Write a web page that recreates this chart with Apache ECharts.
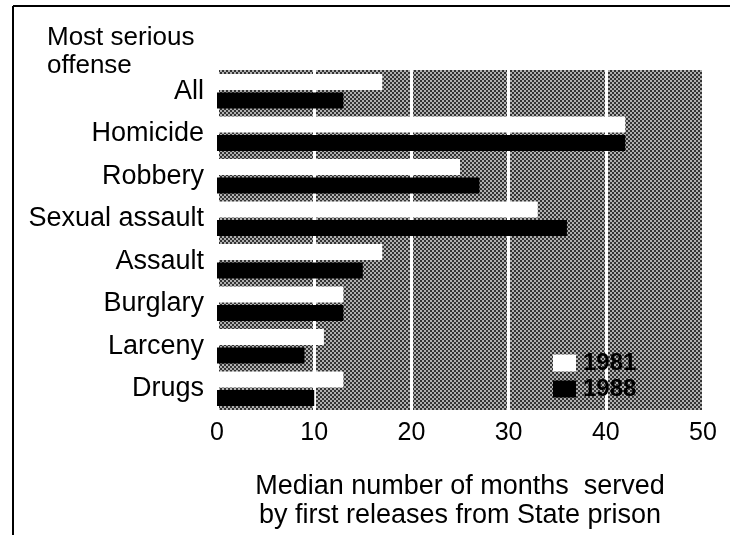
<!DOCTYPE html>
<html>
<head>
<meta charset="utf-8">
<script src="https://cdn.jsdelivr.net/npm/echarts@6/dist/echarts.min.js"></script>
<style>
  html, body { margin: 0; padding: 0; background: #fff; }
  #chart { width: 730px; height: 535px; }
</style>
</head>
<body>
<div id="chart"></div>
<script>
const offenses = ['All', 'Homicide', 'Robbery', 'Sexual assault', 'Assault', 'Burglary', 'Larceny', 'Drugs'];
const months1981 = [17, 42, 25, 33, 17, 13, 11, 13];
const months1988 = [13, 42, 27, 36, 15, 13, 9, 10];
const xTicks = [0, 10, 20, 30, 40, 50];

const font = '"Liberation Sans", Arial, sans-serif';

// small dithered tile for the grey plot background
function ditherTile() {
  const c = document.createElement('canvas');
  c.width = 4; c.height = 4;
  const ctx = c.getContext('2d');
  ctx.fillStyle = '#b0b0b0';
  ctx.fillRect(0, 0, 4, 4);
  ctx.fillStyle = '#333';
  ctx.fillRect(0, 0, 2, 2);
  ctx.fillRect(2, 2, 2, 2);
  return c;
}

const chart = echarts.init(document.getElementById('chart'));

chart.setOption({
  animation: false,
  backgroundColor: '#fff',
  textStyle: { fontFamily: font, color: '#000' },
  graphic: [
    // frame: top and left rule
    { type: 'line', shape: { x1: 13, y1: 6, x2: 730, y2: 6 }, style: { stroke: '#000', lineWidth: 2 } },
    { type: 'line', shape: { x1: 13, y1: 6, x2: 13, y2: 535 }, style: { stroke: '#000', lineWidth: 2 } },
    {
      type: 'text', left: 47, top: 24,
      style: { text: 'Most serious\noffense', font: '26px ' + font, fill: '#000', lineHeight: 28 }
    }
  ],
  legend: {
    orient: 'vertical',
    left: 548,
    top: 346,
    itemWidth: 23,
    itemHeight: 17,
    itemGap: 2,
    icon: 'rect',
    textStyle: {
      fontFamily: 'Liberation Sans', fontSize: 24, fontWeight: 700, color: '#000',
      lineHeight: 20, padding: [2, 0, 0, 2]
    },
    data: ['1981', '1988']
  },
  grid: {
    left: 217, right: 27, top: 70, bottom: 118,
    show: true,
    backgroundColor: { image: ditherTile(), repeat: 'repeat' },
    borderWidth: 0
  },
  xAxis: {
    type: 'value',
    min: 0,
    max: 50,
    interval: 10,
    axisLine: { show: false },
    axisTick: { show: false },
    axisLabel: {
      fontSize: 25, color: '#000', margin: 11,
      formatter: v => xTicks.includes(v) ? String(v) : ''
    },
    splitLine: { show: true, lineStyle: { color: '#fff', width: 3 } },
    name: 'Median number of months  served\nby first releases from State prison',
    nameLocation: 'middle',
    nameGap: 62,
    nameTextStyle: { fontSize: 27, color: '#000', lineHeight: 29 }
  },
  yAxis: {
    type: 'category',
    inverse: true,
    data: offenses,
    axisLine: { show: false },
    axisTick: { show: false },
    axisLabel: { fontSize: 27, color: '#000', margin: 13 },
    splitLine: { show: false }
  },
  series: [
    {
      name: '1981',
      type: 'bar',
      data: months1981,
      barWidth: 16,
      barGap: '15%',
      itemStyle: { color: '#fff' }
    },
    {
      name: '1988',
      type: 'bar',
      data: months1988,
      barWidth: 16,
      itemStyle: { color: '#000' }
    }
  ]
});
</script>
</body>
</html>
